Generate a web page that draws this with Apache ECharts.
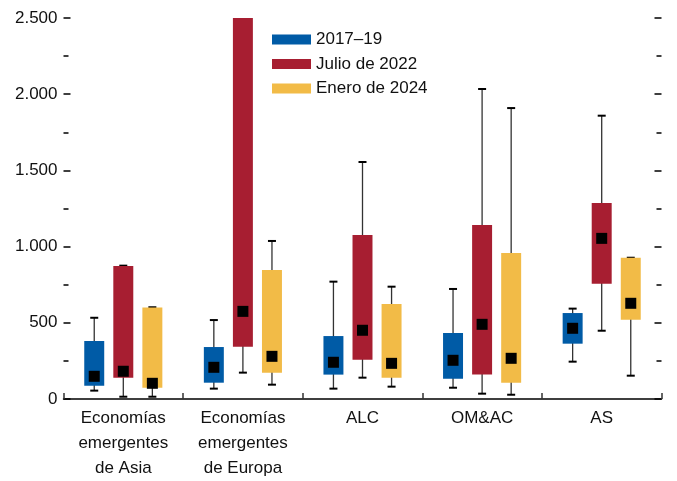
<!DOCTYPE html>
<html>
<head>
<meta charset="utf-8">
<script src="https://cdn.jsdelivr.net/npm/echarts@6/dist/echarts.min.js"></script>
<style>
  html, body { margin: 0; padding: 0; background: #fff; }
  #chart { width: 677px; height: 481px; }
</style>
</head>
<body>
<div id="chart"></div>
<script>
// regiones
var categories = ['Economías\nemergentes\nde Asia', 'Economías\nemergentes\nde Europa', 'ALC', 'OM&AC', 'AS'];
var seriesNames = ['2017–19', 'Julio de 2022', 'Enero de 2024'];
var yTicks = [0, 500, 1000, 1500, 2000, 2500];

// cada fila: [mínimo, percentil inferior, percentil superior, máximo, mediana]
var box1719 = [
  [55, 87, 380, 533, 149],
  [68, 107, 341, 518, 208],
  [68, 160, 413, 770, 241],
  [74, 133, 433, 722, 254],
  [245, 363, 564, 593, 464]
];
var boxJul22 = [
  [15, 140, 873, 875, 182],
  [173, 343, 2560, 2560, 575],
  [140, 258, 1076, 1555, 451],
  [35, 160, 1142, 2034, 490],
  [448, 757, 1286, 1859, 1054]
];
var boxEne24 = [
  [15, 74, 600, 602, 103],
  [94, 173, 846, 1037, 280],
  [81, 140, 623, 737, 234],
  [28, 107, 958, 1909, 267],
  [153, 520, 927, 927, 628]
];

var colors = ['#005BA6', '#A71E31', '#F2BB47'];
var font = '"Liberation Sans Narrow", "Liberation Sans", Arial, sans-serif';

function fmt(v) {
  return String(v).replace(/\B(?=(\d{3})+(?!\d))/g, '.');
}

function toRows(rows) {
  return rows.map(function (r, i) { return [i].concat(r); });
}

function renderBox(params, api) {
  var idx = api.value(0);
  var bw = api.size([1, 0])[0];
  var off = (params.seriesIndex - 1) * 0.243 * bw;
  var w = 0.167 * bw;
  var lo = api.coord([idx, api.value(1)]);
  var q1 = api.coord([idx, api.value(2)]);
  var q3 = api.coord([idx, api.value(3)]);
  var hi = api.coord([idx, api.value(4)]);
  var md = api.coord([idx, api.value(5)]);
  var x = lo[0] + off;
  var capW = 8, mk = 11;
  var ink = { stroke: '#000', lineWidth: 2 };
  return {
    type: 'group',
    children: [
      { type: 'line', shape: { x1: x, y1: hi[1], x2: x, y2: lo[1] }, style: { stroke: '#333', lineWidth: 1.3 } },
      { type: 'line', shape: { x1: x - capW / 2, y1: hi[1], x2: x + capW / 2, y2: hi[1] }, style: ink },
      { type: 'line', shape: { x1: x - capW / 2, y1: lo[1], x2: x + capW / 2, y2: lo[1] }, style: ink },
      { type: 'rect', shape: { x: x - w / 2, y: q3[1], width: w, height: q1[1] - q3[1] }, style: { fill: colors[params.seriesIndex] } },
      { type: 'rect', shape: { x: x - mk / 2, y: md[1] - mk / 2, width: mk, height: mk }, style: { fill: '#000' } }
    ]
  };
}

var yCommon = {
  type: 'value',
  min: 0,
  max: 2500,
  interval: 500,
  axisLine: { show: false },
  splitLine: { show: false },
  axisTick: { show: true, inside: true, length: 7, lineStyle: { color: '#000', width: 1.5 } },
  minorTick: { show: true, splitNumber: 2, length: 5, lineStyle: { color: '#000', width: 1.5 } }
};

var chart = echarts.init(document.getElementById('chart'));
chart.setOption({
  animation: false,
  color: colors,
  grid: { left: 63.5, right: 15.5, top: 18, bottom: 82 },
  legend: {
    data: seriesNames,
    orient: 'vertical',
    left: 267,
    top: 26,
    icon: 'rect',
    itemWidth: 39,
    itemHeight: 10,
    itemGap: 7.5,
    textStyle: { fontFamily: font, fontSize: 17, color: '#111' }
  },
  xAxis: {
    type: 'category',
    data: categories,
    axisLine: { lineStyle: { color: '#000', width: 1.5 } },
    axisTick: { show: true, inside: true, length: 6, lineStyle: { color: '#333', width: 1.5 } },
    axisLabel: { fontFamily: font, fontSize: 17, color: '#111', lineHeight: 25, margin: 7, interval: 0 }
  },
  yAxis: [
    Object.assign({}, yCommon, {
      position: 'left',
      axisLabel: { fontFamily: font, fontSize: 17, color: '#111', margin: 6, formatter: fmt }
    }),
    Object.assign({}, yCommon, {
      position: 'right',
      axisLabel: { show: false },
      axisTick: { show: true, inside: true, length: 7, lineStyle: { color: '#000', width: 1.5 } }
    })
  ],
  series: [box1719, boxJul22, boxEne24].map(function (rows, i) {
    return {
      name: seriesNames[i],
      type: 'custom',
      clip: true,
      renderItem: renderBox,
      encode: { x: 0, y: [1, 2, 3, 4, 5] },
      data: toRows(rows)
    };
  })
});
</script>
</body>
</html>
